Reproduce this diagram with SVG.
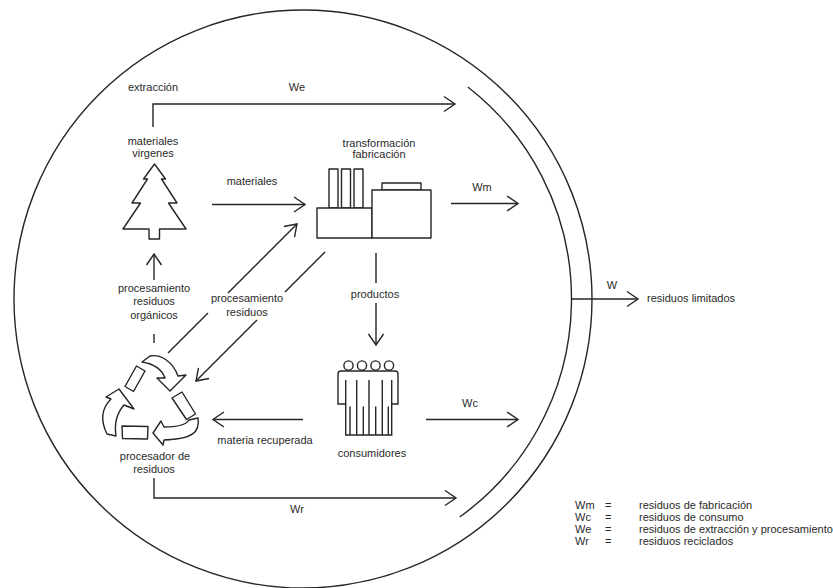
<svg xmlns="http://www.w3.org/2000/svg" width="833" height="588" viewBox="0 0 833 588">
<defs>
<style>
.t{font-family:"Liberation Sans",Arial,sans-serif;font-size:11px;fill:#2a2a2a;}
.m{text-anchor:middle;}
.ln{fill:none;stroke:#262626;stroke-width:1.4;}
.ic{fill:#fff;stroke:#262626;stroke-width:1.4;stroke-linejoin:round;}
</style>
<marker id="ah" markerUnits="userSpaceOnUse" markerWidth="16" markerHeight="18" refX="12" refY="8" orient="auto" viewBox="0 0 16 16">
<path d="M1,0.5 L12,8 L1,15.5" fill="none" stroke="#262626" stroke-width="1.4"/>
</marker>
</defs>
<rect width="833" height="588" fill="#fff"/>

<g id="boundary">
<circle cx="303" cy="299" r="289" class="ln"/>
<path d="M467.8,87 A268.5,268.5 0 0 1 459.7,517" class="ln"/>
</g>

<g id="connectors">
<path d="M153,127 V104 H455" class="ln" marker-end="url(#ah)"/>
<path d="M212,204.5 H305" class="ln" marker-end="url(#ah)"/>
<path d="M451,203.5 H518" class="ln" marker-end="url(#ah)"/>
<path d="M376,253 V283" class="ln"/>
<path d="M376,303 V345" class="ln" marker-end="url(#ah)"/>
<path d="M426,419.5 H518" class="ln" marker-end="url(#ah)"/>
<path d="M303,419.5 H213" class="ln" marker-end="url(#ah)"/>
<path d="M154,478 V498 H456" class="ln" marker-end="url(#ah)"/>
<path d="M154,343 V334" class="ln"/>
<path d="M154,280 V254" class="ln" marker-end="url(#ah)"/>
<path d="M168,353 L208,313" class="ln"/>
<path d="M228,293 L297,224" class="ln" marker-end="url(#ah)"/>
<path d="M325,252 L285,292" class="ln"/>
<path d="M257,320 L196,381" class="ln" marker-end="url(#ah)"/>
<path d="M571.5,299 H638" class="ln" marker-end="url(#ah)"/>
<text class="t m" x="153" y="91">extracción</text>
<text class="t m" x="297" y="91">We</text>
<text class="t m" x="252" y="185">materiales</text>
<text class="t m" x="482" y="191">Wm</text>
<text class="t m" x="375" y="297.5">productos</text>
<text class="t m" x="470" y="407">Wc</text>
<text class="t m" x="265" y="444">materia recuperada</text>
<text class="t m" x="297" y="513">Wr</text>
<text class="t m" x="154" y="292">procesamiento</text>
<text class="t m" x="154" y="305">residuos</text>
<text class="t m" x="154" y="319">orgánicos</text>
<text class="t m" x="247" y="302">procesamiento</text>
<text class="t m" x="247" y="315.5">residuos</text>
<text class="t m" x="612" y="289">W</text>
<text class="t" x="647" y="302">residuos limitados</text>
</g>

<g id="materiales-virgenes">
<text class="t m" x="153" y="144.5">materiales</text>
<text class="t m" x="153" y="157">virgenes</text>
<polygon class="ic" points="154.5,164 165.5,179 161.5,179 177,203 168.5,203 186,229 159.5,229 159.5,239 149,239 149,229 123,229 140.5,203 132,203 147.5,179 143.5,179"/>
</g>

<g id="fabricacion">
<text class="t m" x="379" y="146.5">transformación</text>
<text class="t m" x="379" y="158">fabricación</text>
<rect class="ic" x="329" y="169" width="9" height="39"/>
<rect class="ic" x="341.5" y="169" width="9" height="39"/>
<rect class="ic" x="354" y="169" width="9" height="39"/>
<rect class="ic" x="382" y="183" width="39" height="7"/>
<rect class="ic" x="317" y="208" width="55" height="30"/>
<rect class="ic" x="372" y="190" width="59" height="48"/>
</g>

<g id="consumidores">
<circle class="ic" cx="348.5" cy="365.5" r="4.6"/>
<circle class="ic" cx="362" cy="365.5" r="4.6"/>
<circle class="ic" cx="375.5" cy="365.5" r="4.6"/>
<circle class="ic" cx="389" cy="365.5" r="4.6"/>
<path class="ln" d="M345.7,380 V435 H391.7 V380 M345.7,404 H338 V374 Q338,371 341,371 H395 Q398,371 398,374 V404 H391.7"/>
<path class="ln" d="M356.7,380 V435 M369,380 V435 M382.3,380 V435 M350,406.5 V435 M363.3,406.5 V435 M375.7,406.5 V435 M388.3,406.5 V435"/>
<text class="t m" x="372" y="457">consumidores</text>
</g>

<g id="procesador">
<path class="ic" d="M142,362 L150,356 C161,354 173,362 178,376 L186,375 L170,391 L157,378 L165,378 C162,370 155,364 142,362 Z"/>
<path class="ic" d="M107,434 C100,420 102,408 111,399 L106,397 L119,389 L134,409 L124,405 C117,413 114,423 116,436 Z"/>
<path class="ic" d="M189,420 L198,418 C200,432 193,439 164,440 L163,445 L153,433 L161,421 L164,427 C178,427 186,425 189,420 Z"/>
<polygon class="ic" points="125,386.5 136.5,366 145,371 133.5,391.5"/>
<polygon class="ic" points="172,398 182,392 195.5,414 186.5,419.5"/>
<polygon class="ic" points="122,426 148,426.5 147.5,439 122.5,438.5"/>
<text class="t m" x="155" y="459.5">procesador de</text>
<text class="t m" x="154" y="472.5">residuos</text>
</g>

<g id="leyenda">
<text class="t" x="575" y="509">Wm</text><text class="t" x="605" y="509">=</text><text class="t" x="639" y="509">residuos de fabricación</text>
<text class="t" x="575" y="521">Wc</text><text class="t" x="605" y="521">=</text><text class="t" x="639" y="521">residuos de consumo</text>
<text class="t" x="575" y="533">We</text><text class="t" x="605" y="533">=</text><text class="t" x="639" y="533">residuos de extracción y procesamiento</text>
<text class="t" x="575" y="545">Wr</text><text class="t" x="605" y="545">=</text><text class="t" x="639" y="545">residuos reciclados</text>
</g>
</svg>
